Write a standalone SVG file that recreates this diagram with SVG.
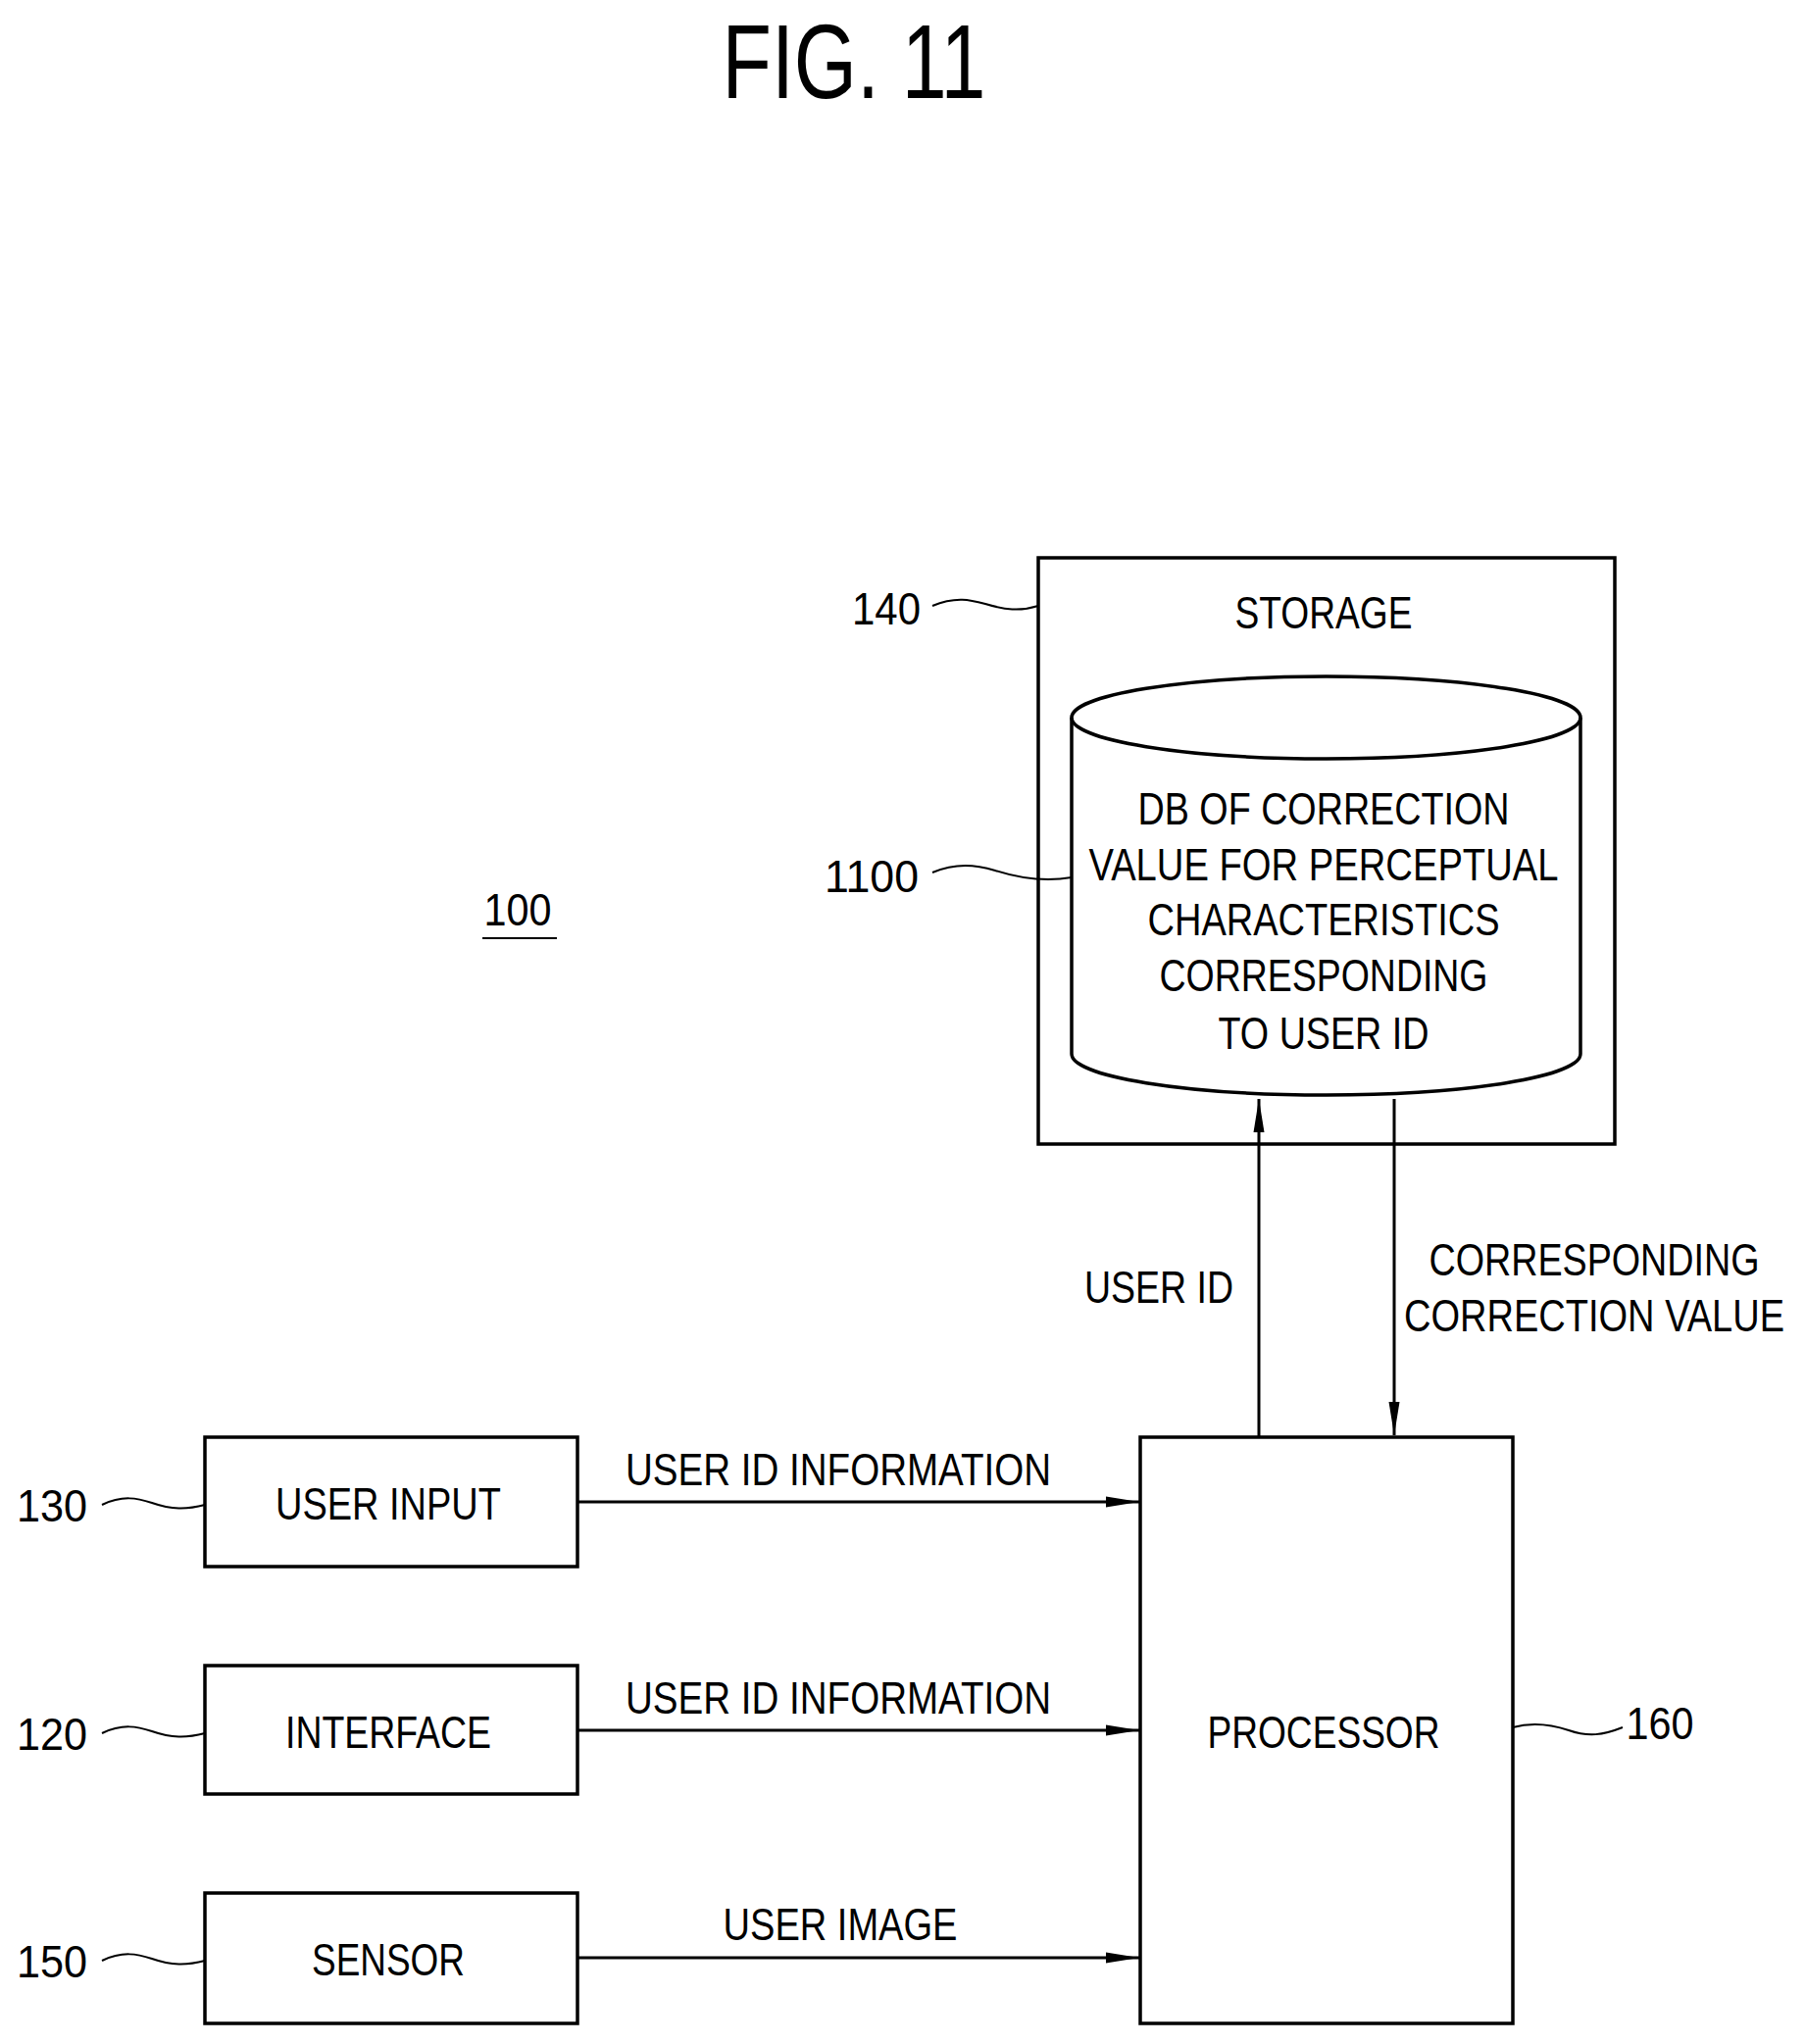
<svg xmlns="http://www.w3.org/2000/svg" width="1841" height="2085" viewBox="0 0 1841 2085">
<style>
text{font-family:"Liberation Sans",Arial,sans-serif;font-size:46px;fill:#000;text-anchor:middle}
.b{fill:none;stroke:#000;stroke-width:3.5}
.l{fill:none;stroke:#000;stroke-width:3}
.s{fill:none;stroke:#000;stroke-width:2}
</style>
<defs>
<marker id="ah" viewBox="0 0 34 14" refX="34" refY="7" markerWidth="34" markerHeight="14" markerUnits="userSpaceOnUse" orient="auto">
<path d="M0,1.5 L34,7 L0,12.5 Z" fill="#000"/>
</marker>
</defs>
<text x="871" y="100" style="font-size:108px" textLength="269" lengthAdjust="spacingAndGlyphs">FIG. 11</text>
<g id="n100"><text x="528" y="944" textLength="69" lengthAdjust="spacingAndGlyphs">100</text><line class="s" x1="492" y1="957" x2="568" y2="957"/></g>
<g id="storage">
<rect class="b" x="1059" y="569" width="588" height="598"/>
<text x="1350" y="641" textLength="181" lengthAdjust="spacingAndGlyphs">STORAGE</text>
<text x="904" y="637" textLength="70" lengthAdjust="spacingAndGlyphs">140</text>
<path class="s" d="M951,618 C975,608 990,612 1005,616 C1025,622 1040,624 1059,618"/>
</g>
<g id="db">
<path class="b" d="M1093,732 L1093,1075 A259.5,42 0 0 0 1612,1075 L1612,732"/>
<ellipse class="b" cx="1352.5" cy="732" rx="259.5" ry="42"/>
<text x="1350" y="841" textLength="379" lengthAdjust="spacingAndGlyphs">DB OF CORRECTION</text>
<text x="1350" y="898" textLength="479" lengthAdjust="spacingAndGlyphs">VALUE FOR PERCEPTUAL</text>
<text x="1350" y="954" textLength="359" lengthAdjust="spacingAndGlyphs">CHARACTERISTICS</text>
<text x="1350" y="1011" textLength="335" lengthAdjust="spacingAndGlyphs">CORRESPONDING</text>
<text x="1350" y="1070" textLength="215" lengthAdjust="spacingAndGlyphs">TO USER ID</text>
<text x="889" y="910" textLength="96" lengthAdjust="spacingAndGlyphs">1100</text>
<path class="s" d="M951,890 C975,880 995,882 1015,888 C1040,896 1065,900 1093,895"/>
</g>
<g id="processor">
<rect class="b" x="1163" y="1466" width="380" height="598"/>
<text x="1350" y="1783" textLength="237" lengthAdjust="spacingAndGlyphs">PROCESSOR</text>
<text x="1693" y="1774" textLength="69" lengthAdjust="spacingAndGlyphs">160</text>
<path class="s" d="M1543,1762 C1565,1756 1585,1760 1600,1765 C1620,1772 1635,1770 1655,1762"/>
</g>
<g id="userinput">
<rect class="b" x="209" y="1466" width="380" height="132"/>
<text x="396" y="1550" textLength="230" lengthAdjust="spacingAndGlyphs">USER INPUT</text>
<text x="53" y="1552" textLength="72" lengthAdjust="spacingAndGlyphs">130</text>
<path class="s" d="M104,1535 C125,1525 140,1528 155,1533 C175,1540 190,1540 209,1535"/>
</g>
<g id="interface">
<rect class="b" x="209" y="1699" width="380" height="131"/>
<text x="396" y="1783" textLength="210" lengthAdjust="spacingAndGlyphs">INTERFACE</text>
<text x="53" y="1785" textLength="72" lengthAdjust="spacingAndGlyphs">120</text>
<path class="s" d="M104,1768 C125,1758 140,1761 155,1766 C175,1773 190,1773 209,1768"/>
</g>
<g id="sensor">
<rect class="b" x="209" y="1931" width="380" height="133"/>
<text x="396" y="2015" textLength="156" lengthAdjust="spacingAndGlyphs">SENSOR</text>
<text x="53" y="2017" textLength="72" lengthAdjust="spacingAndGlyphs">150</text>
<path class="s" d="M104,2000 C125,1990 140,1993 155,1998 C175,2005 190,2005 209,2000"/>
</g>
<g id="connectors">
<line class="l" x1="1284" y1="1466" x2="1284" y2="1121" marker-end="url(#ah)"/>
<line class="l" x1="1422" y1="1121" x2="1422" y2="1464" marker-end="url(#ah)"/>
<line class="l" x1="589" y1="1532" x2="1162" y2="1532" marker-end="url(#ah)"/>
<line class="l" x1="589" y1="1765" x2="1162" y2="1765" marker-end="url(#ah)"/>
<line class="l" x1="589" y1="1997" x2="1162" y2="1997" marker-end="url(#ah)"/>
<text x="1182" y="1329" textLength="152" lengthAdjust="spacingAndGlyphs">USER ID</text>
<text x="1626" y="1301" textLength="337" lengthAdjust="spacingAndGlyphs">CORRESPONDING</text>
<text x="1626" y="1358" textLength="388" lengthAdjust="spacingAndGlyphs">CORRECTION VALUE</text>
<text x="855" y="1515" textLength="434" lengthAdjust="spacingAndGlyphs">USER ID INFORMATION</text>
<text x="855" y="1748" textLength="434" lengthAdjust="spacingAndGlyphs">USER ID INFORMATION</text>
<text x="857" y="1979" textLength="239" lengthAdjust="spacingAndGlyphs">USER IMAGE</text>
</g>
</svg>
